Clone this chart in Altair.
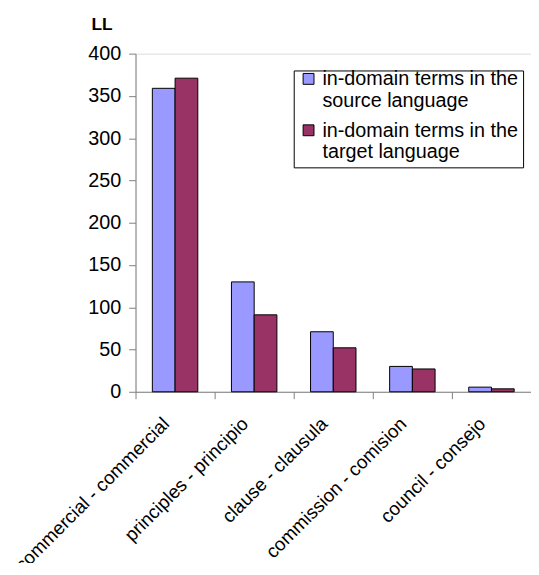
import altair as alt
import pandas as pd

terms = ["commercial - commercial", "principles - principio", "clause - clausula",
         "commission - comision", "council - consejo"]
source_vals = [359, 130, 71, 30, 5.5]
target_vals = [371, 91, 52, 27, 3.5]
series = ["in-domain terms in the source language", "in-domain terms in the target language"]
colors = ["#9999FF", "#993366"]

rows = []
for t, s, g in zip(terms, source_vals, target_vals):
    rows.append({"term": t, "series": series[0], "value": s})
    rows.append({"term": t, "series": series[1], "value": g})
df = pd.DataFrame(rows)

FONT = "Liberation Sans"
NB = "\u00a0\u00a0\u00a0"
label_expr = ("datum.label == '" + series[0] + "' ? ['in-domain terms in the" + NB + "', 'source language'] : "
              "['in-domain terms in the" + NB + "', 'target language']")

# square symbol raised so that it sits beside the first line of each label
symbol_path = "M-1,-2.18H1V-0.18H-1Z"

chart = alt.Chart(df).mark_bar(stroke="black", strokeWidth=1).encode(
    x=alt.X("term:N", sort=terms, title=None,
            scale=alt.Scale(paddingInner=0, paddingOuter=0),
            axis=alt.Axis(bandPosition=0, labelOffset=-9, labelAngle=-45, labelAlign="right",
                          labelBaseline="middle", labelFontSize=19, labelFont=FONT,
                          labelColor="black", labelPadding=22, tickSize=7, tickColor="#808080",
                          domainColor="#808080", labelLimit=0)),
    xOffset=alt.XOffset("series:N", scale=alt.Scale(paddingInner=0, paddingOuter=0.74)),
    y=alt.Y("value:Q", scale=alt.Scale(domain=[0, 400], nice=False),
            axis=alt.Axis(values=[0, 50, 100, 150, 200, 250, 300, 350, 400], grid=False,
                          title="LL", titleAngle=0, titleAlign="left", titleBaseline="alphabetic",
                          titleX=-45, titleY=-24, titleFontSize=17.5, titleFontWeight="bold",
                          titleFont=FONT, titleColor="black",
                          labelFontSize=20, labelFont=FONT, labelColor="black",
                          labelPadding=8, tickSize=7, tickColor="#808080", domainColor="#808080")),
    color=alt.Color("series:N", scale=alt.Scale(domain=series, range=colors),
                    legend=alt.Legend(title=None, orient="none", legendX=160, legendY=17,
                                      strokeColor="black", padding=5, symbolType=symbol_path,
                                      symbolSize=121, symbolStrokeColor="black", symbolStrokeWidth=1,
                                      labelFontSize=20, labelFont=FONT, labelColor="black",
                                      labelLimit=0, labelOffset=4, labelExpr=label_expr,
                                      labelBaseline="alphabetic", rowPadding=10)),
).properties(
    width=400, height=342,
    autosize=alt.AutoSizeParams(type="none"),
    padding={"left": 129, "top": 43, "right": 0, "bottom": 170},
).configure_view(stroke=None).configure(background="white")

chart.save("out.html", embed_options={"renderer": "svg", "actions": False})
